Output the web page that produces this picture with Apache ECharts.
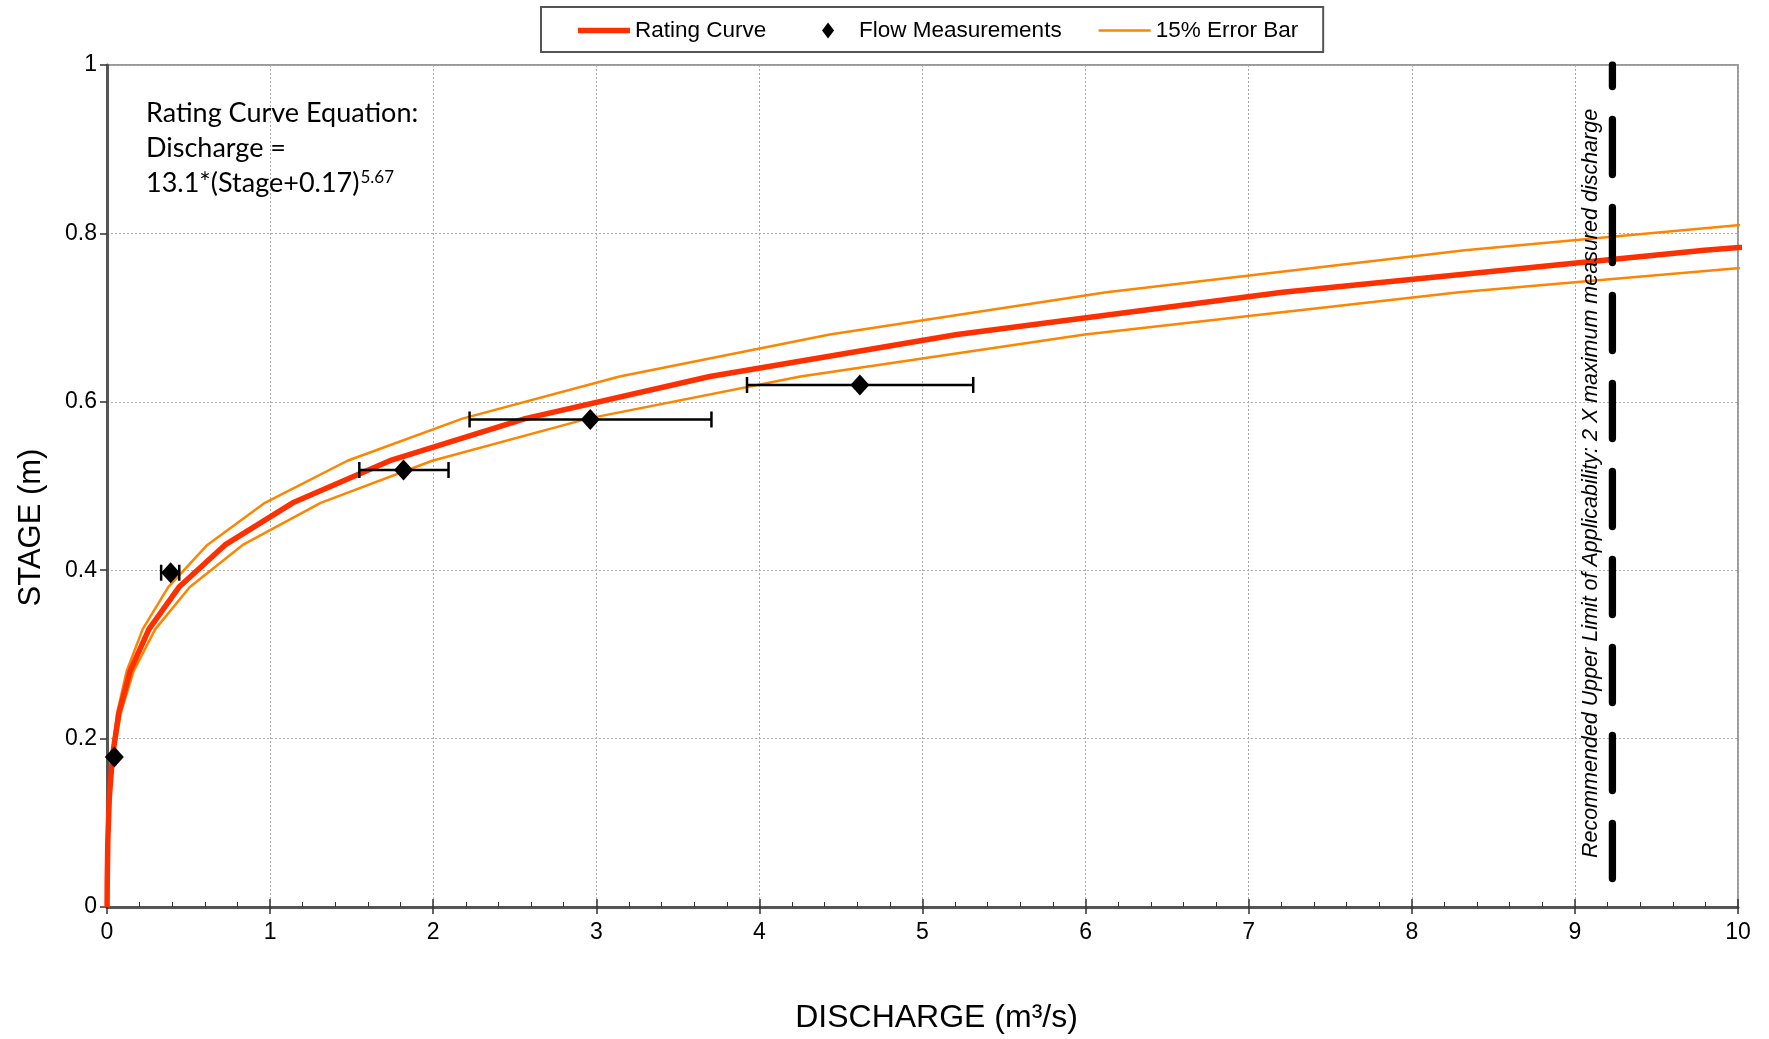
<!DOCTYPE html>
<html>
<head>
<meta charset="utf-8">
<script src="https://cdn.jsdelivr.net/npm/echarts@6/dist/echarts.min.js"></script>
<style>html,body{margin:0;padding:0;background:#fff}#c{width:1769px;height:1039px}</style>
</head>
<body>
<div id="c"></div>
<script>
// ---- data ----
const stage   = [0, 0.03, 0.08, 0.13, 0.18, 0.23, 0.28, 0.33, 0.38, 0.43, 0.48, 0.53, 0.58, 0.63, 0.68, 0.73, 0.78, 0.83];
const ratingQ = [0.0006, 0.0014, 0.0051, 0.0142, 0.034, 0.0726, 0.1415, 0.2573, 0.4417, 0.7235, 1.139, 1.734, 2.564, 3.696, 5.213, 7.208, 9.794, 13.1];
const upperQ  = [0.0005, 0.0012, 0.0043, 0.0121, 0.0289, 0.0617, 0.1203, 0.2187, 0.3754, 0.615, 0.968, 1.474, 2.179, 3.142, 4.431, 6.127, 8.325, 11.135];
const lowerQ  = [0.0007, 0.0016, 0.0059, 0.0163, 0.0391, 0.0835, 0.1627, 0.2959, 0.508, 0.832, 1.31, 1.994, 2.948, 4.251, 5.995, 8.29, 11.263, 15.065];
const measQ     = [0.045, 0.39, 1.818, 2.963, 4.616];
const measStage = [0.178, 0.397, 0.519, 0.579, 0.62];
const measLo    = [0.038, 0.332, 1.547, 2.223, 3.924];
const measHi    = [0.052, 0.443, 2.094, 3.706, 5.311];
const limitQ = 9.23;
const limitStage = [1, 0];
const limitLabelStage = 0.503;
const xRange = [0, 10, 1];
const yRange = [0, 1, 0.2];
const legendNames = ['Rating Curve', 'Flow Measurements', '15% Error Bar'];
const limitText = 'Recommended Upper Limit of Applicability: 2 X maximum measured discharge';
const eqLines = ['Rating Curve Equation:', 'Discharge =', '13.1*(Stage+0.17)', '5.67'];
const xName = 'DISCHARGE (m³/s)';
const yName = 'STAGE (m)';

const RED = '#ff3000', ORANGE = '#ff8400';
const FONT = 'Liberation Sans, Arial, sans-serif';
const EQFONT = 'Lato, Open Sans, sans-serif';
const pairs = (xs, ys) => xs.map((x, i) => [x, ys[i]]);

const chart = echarts.init(document.getElementById('c'), null, {renderer: 'canvas'});
chart.setOption({
  animation: false,
  backgroundColor: '#fff',
  textStyle: {fontFamily: FONT},
  title: {
    left: 141, top: 91,
    text: '{a|' + eqLines[0] + '}\n{a|' + eqLines[1] + '}\n{a|' + eqLines[2] + '}{s|' + eqLines[3] + '}',
    textStyle: {
      fontWeight: 'normal',
      rich: {
        a: {fontFamily: EQFONT, fontWeight: 'normal', fontSize: 27, lineHeight: 35, color: '#000'},
        s: {fontFamily: EQFONT, fontWeight: 'normal', fontSize: 17, lineHeight: 35, color: '#000', verticalAlign: 'top', padding: [3, 0, 0, 1]}
      }
    }
  },
  legend: {
    left: 541, top: 7,
    padding: [12, 25, 10, 37],
    itemGap: 37, itemWidth: 52, itemHeight: 16,
    symbolKeepAspect: true,
    borderColor: '#555', borderWidth: 2, borderRadius: 0,
    textStyle: {fontFamily: FONT, fontSize: 22.5, color: '#000'},
    formatter: name => name === legendNames[0] ? name + '   ' : name,
    data: [
      {name: legendNames[0], icon: 'path://M0,0H52V5.5H0Z', itemStyle: {color: RED, borderWidth: 0}},
      {name: legendNames[1], icon: 'path://M6,0L12,8L6,16L0,8Z', itemStyle: {color: '#000', borderWidth: 0, opacity: 1}},
      {name: legendNames[2], icon: 'path://M0,0H52V2.5H0Z', itemStyle: {color: ORANGE, borderWidth: 0}}
    ]
  },
  grid: {left: 107, right: 31, top: 65, bottom: 130, show: true, borderColor: '#999', borderWidth: 2, backgroundColor: 'transparent'},
  xAxis: [{
    type: 'value', min: xRange[0], max: xRange[1], interval: xRange[2], position: 'bottom',
    name: xName, nameLocation: 'middle', nameGap: 95,
    nameTextStyle: {fontFamily: FONT, fontSize: 32, color: '#000', padding: [0, 0, 0, 28]},
    axisLine: {show: true, onZero: false, lineStyle: {color: '#555', width: 3}},
    axisTick: {show: true, inside: false, length: 7, lineStyle: {color: '#333', width: 1.5}},
    axisLabel: {fontFamily: FONT, fontSize: 23, color: '#000', margin: 14},
    splitLine: {show: true, lineStyle: {color: '#aaa', type: [2, 2], width: 1}}
  }, {
    type: 'value', min: xRange[0], max: xRange[1], interval: xRange[2], position: 'bottom',
    axisLine: {show: false},
    axisTick: {show: true, inside: true, length: 8, lineStyle: {color: '#333', width: 1.5}},
    minorTick: {show: true, splitNumber: 5, length: 5, lineStyle: {color: '#333', width: 1}},
    axisLabel: {show: false},
    splitLine: {show: false}
  }],
  yAxis: {
    type: 'value', min: yRange[0], max: yRange[1], interval: yRange[2],
    name: yName, nameLocation: 'middle', nameGap: 60, nameRotate: 90,
    nameTextStyle: {fontFamily: FONT, fontSize: 31, color: '#000', padding: [0, 83, 0, 0]},
    axisLine: {show: true, onZero: false, lineStyle: {color: '#555', width: 3}},
    axisTick: {show: true, inside: false, length: 7, lineStyle: {color: '#333', width: 1.5}},
    axisLabel: {fontFamily: FONT, fontSize: 23, color: '#000', margin: 10},
    splitLine: {show: true, lineStyle: {color: '#aaa', type: [2, 2], width: 1}}
  },
  series: [
    {name: legendNames[2], type: 'line', data: pairs(upperQ, stage), symbol: 'none', z: 2,
     lineStyle: {color: ORANGE, width: 2.5}, itemStyle: {color: ORANGE}},
    {name: legendNames[2], type: 'line', data: pairs(lowerQ, stage), symbol: 'none', z: 2,
     lineStyle: {color: ORANGE, width: 2.5}, itemStyle: {color: ORANGE}},
    {name: legendNames[0], type: 'line', data: pairs(ratingQ, stage), symbol: 'none', z: 3,
     lineStyle: {color: RED, width: 5.5, join: 'round'}, itemStyle: {color: RED}},
    {name: 'errbars', type: 'custom', z: 4,
     data: measQ.map((q, i) => [measLo[i], measHi[i], measStage[i]]),
     encode: {x: [0, 1], y: 2},
     renderItem: function (params, api) {
       const a = api.coord([api.value(0), api.value(2)]);
       const b = api.coord([api.value(1), api.value(2)]);
       const h = 8;
       const st = {stroke: '#000', lineWidth: 2.5};
       return {type: 'group', children: [
         {type: 'line', shape: {x1: a[0], y1: a[1], x2: b[0], y2: b[1]}, style: st},
         {type: 'line', shape: {x1: a[0], y1: a[1] - h, x2: a[0], y2: a[1] + h}, style: st},
         {type: 'line', shape: {x1: b[0], y1: b[1] - h, x2: b[0], y2: b[1] + h}, style: st}
       ]};
     }},
    {name: legendNames[1], type: 'scatter', data: pairs(measQ, measStage), z: 5,
     symbol: 'diamond', symbolSize: [19, 21], itemStyle: {color: '#000', opacity: 1}},
    {name: 'limit', type: 'line', data: limitStage.map(s => [limitQ, s]), symbol: 'none', z: 6, clip: true,
     lineStyle: {color: '#000', width: 7.3, type: [55, 33], dashOffset: 33.5, cap: 'round'}},
    {name: 'limitLabel', type: 'scatter', data: [[limitQ, limitLabelStage]], symbolSize: 0, z: 6, silent: true,
     itemStyle: {opacity: 1},
     label: {show: true, formatter: limitText, position: 'left', distance: 10, rotate: 90,
             align: 'center', verticalAlign: 'bottom',
             fontFamily: FONT, fontStyle: 'italic', fontSize: 21.5, color: '#000'}}
  ]
});
</script>
</body>
</html>
